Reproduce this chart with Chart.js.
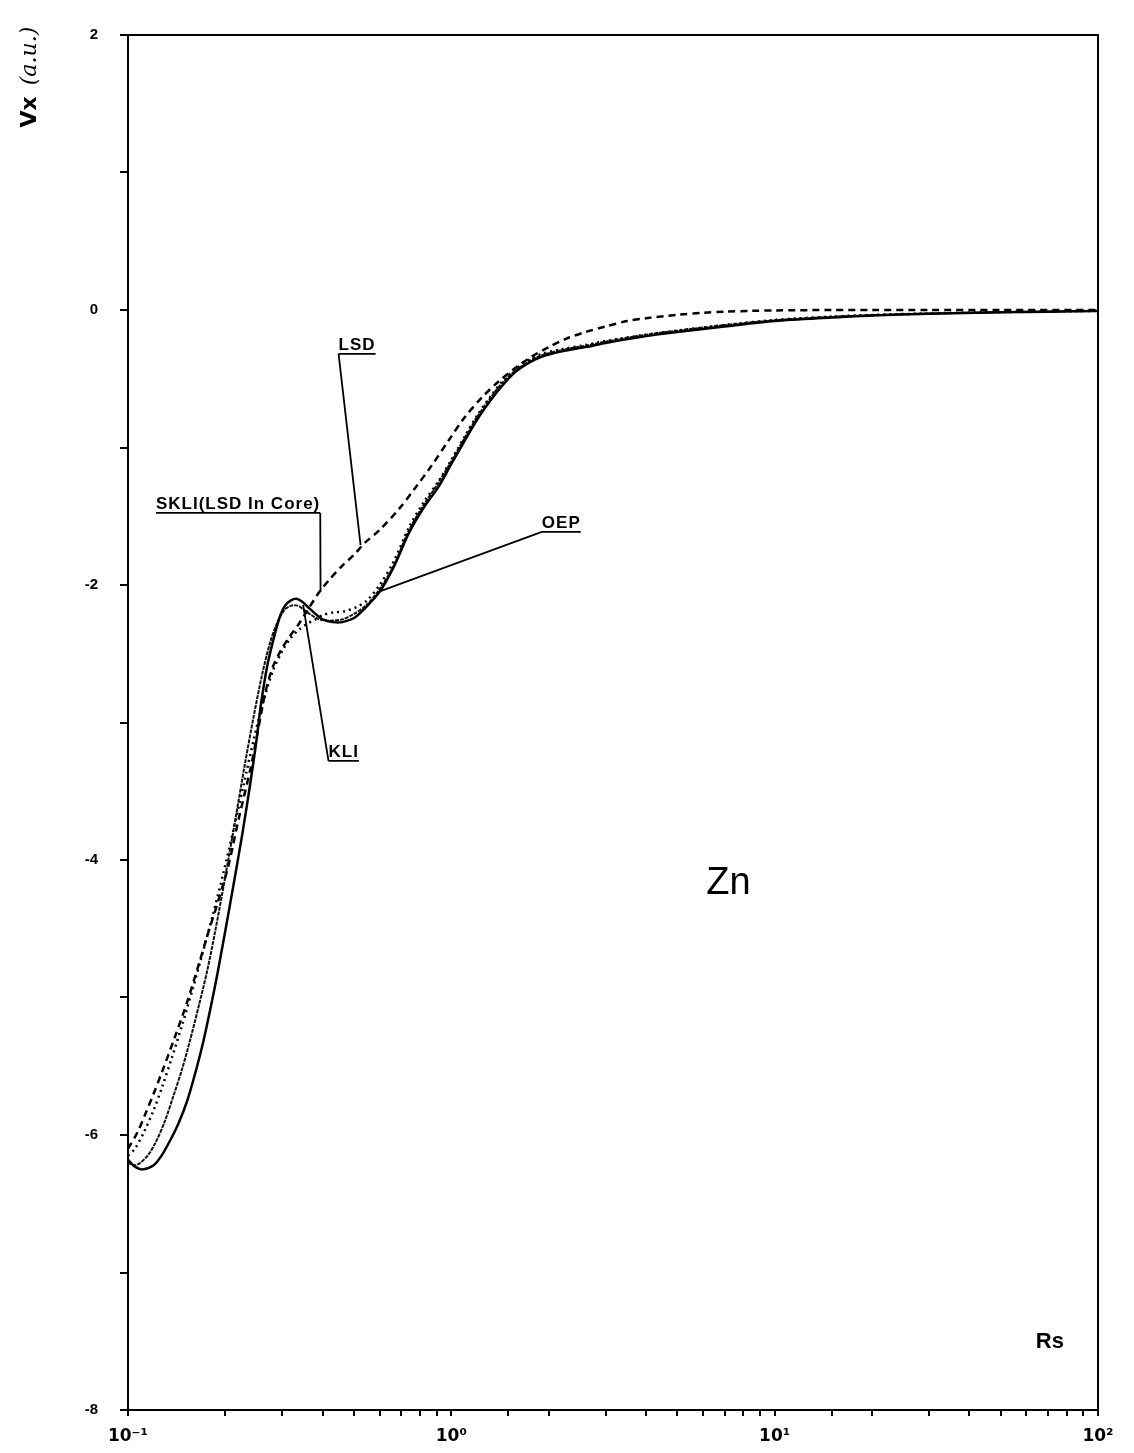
<!DOCTYPE html>
<html>
<head>
<meta charset="utf-8">
<script src="https://cdn.jsdelivr.net/npm/chart.js@4"></script>
<style>
  body { margin: 0; background: #fff; }
  canvas { display: block; }
</style>
</head>
<body>
<canvas id="vx" width="1134" height="1453"></canvas>
<script>
// x = Rs (log), y = Vx in a.u.
const kliX = [0.1, 0.105, 0.111, 0.12, 0.127, 0.135, 0.143, 0.152, 0.161, 0.171, 0.181, 0.19, 0.208, 0.225, 0.239, 0.25, 0.258, 0.27, 0.285, 0.296, 0.306, 0.32, 0.332, 0.345, 0.36, 0.38, 0.40, 0.43, 0.46, 0.5, 0.54, 0.6, 0.66, 0.74, 0.82, 0.91, 1.0, 1.1, 1.2, 1.33, 1.45, 1.58, 1.75, 1.9, 2.2, 2.6, 3.0, 4.0, 5.0, 7.0, 10, 15, 20, 30, 50, 70, 100];
const kliY = [-6.18, -6.23, -6.25, -6.22, -6.15, -6.04, -5.92, -5.76, -5.56, -5.32, -5.05, -4.8, -4.29, -3.83, -3.44, -3.12, -2.86, -2.58, -2.35, -2.22, -2.15, -2.11, -2.1, -2.12, -2.16, -2.21, -2.25, -2.27, -2.27, -2.24, -2.17, -2.05, -1.88, -1.62, -1.44, -1.29, -1.12, -0.95, -0.8, -0.65, -0.54, -0.45, -0.38, -0.34, -0.3, -0.27, -0.24, -0.19, -0.16, -0.12, -0.08, -0.055, -0.04, -0.028, -0.017, -0.012, -0.008];

const oepX = [0.1, 0.104, 0.108, 0.115, 0.122, 0.13, 0.138, 0.147, 0.156, 0.166, 0.176, 0.186, 0.2, 0.215, 0.23, 0.245, 0.26, 0.275, 0.29, 0.305, 0.32, 0.335, 0.35, 0.37, 0.39, 0.42, 0.46, 0.5, 0.55, 0.6, 0.66, 0.74, 0.82, 0.91, 1.0, 1.1, 1.2, 1.33, 1.45, 1.58, 1.75, 1.9, 2.2, 2.6, 3.0, 4.0, 5.0, 7.0, 10, 15, 20, 30, 50, 70, 100];
const oepY = [-6.2, -6.22, -6.21, -6.15, -6.05, -5.9, -5.72, -5.52, -5.3, -5.05, -4.8, -4.52, -4.12, -3.7, -3.3, -2.95, -2.65, -2.42, -2.27, -2.18, -2.15, -2.15, -2.18, -2.22, -2.25, -2.26, -2.25, -2.21, -2.14, -2.03, -1.87, -1.6, -1.42, -1.26, -1.1, -0.93, -0.78, -0.63, -0.52, -0.44, -0.37, -0.33, -0.29, -0.26, -0.23, -0.18, -0.15, -0.11, -0.075, -0.05, -0.038, -0.026, -0.016, -0.011, -0.007];

const lsdX = [0.1, 0.107, 0.113, 0.12, 0.127, 0.14, 0.153, 0.165, 0.177, 0.19, 0.204, 0.22, 0.24, 0.255, 0.266, 0.28, 0.298, 0.315, 0.336, 0.36, 0.388, 0.42, 0.46, 0.5, 0.542, 0.6, 0.687, 0.77, 0.87, 0.98, 1.1, 1.25, 1.4, 1.58, 1.77, 2.0, 2.26, 2.6, 3.0, 3.5, 4.0, 5.0, 6.0, 7.0, 8.5, 10, 15, 20, 30, 50, 100];
const lsdY = [-6.1, -5.98, -5.85, -5.7, -5.55, -5.28, -5.02, -4.77, -4.53, -4.3, -4.05, -3.7, -3.32, -3.0, -2.78, -2.6, -2.47, -2.38, -2.29, -2.18, -2.06, -1.96, -1.86, -1.78, -1.69, -1.6, -1.45, -1.3, -1.13, -0.95, -0.78, -0.63, -0.52, -0.42, -0.34, -0.27, -0.21, -0.16, -0.12, -0.08, -0.06, -0.035, -0.02, -0.012, -0.006, -0.003, 0, 0, 0, 0, 0];

const skliX = [0.1, 0.105, 0.112, 0.12, 0.128, 0.137, 0.147, 0.158, 0.17, 0.183, 0.197, 0.212, 0.228, 0.245, 0.262, 0.28, 0.3, 0.32, 0.34, 0.36, 0.38, 0.4, 0.43, 0.47, 0.51, 0.55, 0.6, 0.66, 0.74, 0.82, 0.91, 1.0, 1.1, 1.2, 1.33, 1.45, 1.58, 1.75, 1.9, 2.2, 2.6, 3.0, 4.0, 5.0, 7.0, 10, 15, 20, 30, 50, 70, 100];
const skliY = [-6.15, -6.1, -5.98, -5.82, -5.64, -5.43, -5.2, -4.95, -4.68, -4.4, -4.1, -3.78, -3.45, -3.12, -2.85, -2.63, -2.48, -2.38, -2.32, -2.28, -2.25, -2.22, -2.2, -2.19, -2.16, -2.11, -2.0, -1.84, -1.58, -1.4, -1.25, -1.09, -0.92, -0.77, -0.62, -0.51, -0.43, -0.36, -0.32, -0.285, -0.255, -0.225, -0.18, -0.15, -0.11, -0.072, -0.048, -0.036, -0.025, -0.015, -0.01, -0.006];

const xTickLabels = { '-1': '10\u207B\u00B9', '0': '10\u2070', '1': '10\u00B9', '2': '10\u00B2' };
const yTickLabels = ['2', '0', '-2', '-4', '-6', '-8'];

function pts(xs, ys) {
  return xs.map((x, i) => ({ x: x, y: ys[i] }));
}

// labels with leader lines (data coords)
const notes = [
  { text: 'LSD', x: 0.448, y: -0.29, toX: 0.524, toY: -1.71, from: 'left' },
  { text: 'SKLI(LSD In Core)', x: 0.122, y: -1.447, toX: 0.394, toY: -2.05, from: 'right' },
  { text: 'OEP', x: 1.905, y: -1.585, toX: 0.595, toY: -2.05, from: 'left' },
  { text: 'KLI', x: 0.417, y: -3.25, toX: 0.348, toY: -2.145, from: 'left' }
];

const notesPlugin = {
  id: 'notes',
  afterDatasetsDraw(chart) {
    const c = chart.ctx, xs = chart.scales.x, ys = chart.scales.y, a = chart.chartArea;
    c.save();
    // frame
    c.strokeStyle = '#000';
    c.lineWidth = 2;
    c.strokeRect(a.left, a.top, a.right - a.left, a.bottom - a.top);

    c.fillStyle = '#000';
    c.font = 'bold 17px "Liberation Sans", Arial, sans-serif';
    c.letterSpacing = '1px';
    c.textBaseline = 'alphabetic';
    c.lineWidth = 1.8;
    notes.forEach(n => {
      const px = xs.getPixelForValue(n.x), py = ys.getPixelForValue(n.y);
      c.textAlign = 'left';
      c.fillText(n.text, px, py);
      const w = c.measureText(n.text).width;
      c.beginPath();
      c.moveTo(px, py + 4);
      c.lineTo(px + w, py + 4);
      const sx = n.from === 'right' ? px + w : px;
      c.moveTo(sx, py + 4);
      c.lineTo(xs.getPixelForValue(n.toX), ys.getPixelForValue(n.toY));
      c.stroke();
    });
    c.letterSpacing = '0px';

    c.font = '38px "Liberation Sans", Arial, sans-serif';
    c.textAlign = 'center';
    c.fillText('Zn', xs.getPixelForValue(7.2), ys.getPixelForValue(-4.25));

    c.font = 'bold 22px "Liberation Sans", Arial, sans-serif';
    c.fillText('Rs', xs.getPixelForValue(71), ys.getPixelForValue(-7.55));

    // y title
    c.translate(30, 80);
    c.rotate(-Math.PI / 2);
    c.textAlign = 'center';
    c.textBaseline = 'middle';
    c.font = 'bold 22px "DejaVu Sans", sans-serif';
    c.fillText('Vx', -32, 0);
    c.font = 'italic 22px "DejaVu Serif", serif';
    c.fillText('(a.u.)', 24, 0);
    c.restore();
  }
};

const ctx = document.getElementById('vx').getContext('2d');
const vxChart = new Chart(ctx, {
  type: 'line',
  data: {
    datasets: [
      { label: 'KLI', data: pts(kliX, kliY), borderColor: '#000', borderWidth: 2.5 },
      { label: 'OEP', data: pts(oepX, oepY), borderColor: '#111', borderWidth: 2, borderDash: [4, 1] },
      { label: 'LSD', data: pts(lsdX, lsdY), borderColor: '#000', borderWidth: 2.5, borderDash: [7, 5] },
      { label: 'SKLI(LSD In Core)', data: pts(skliX, skliY), borderColor: '#000', borderWidth: 2.5, borderDash: [2, 4] }
    ]
  },
  options: {
    responsive: false,
    animation: false,
    devicePixelRatio: 1,
    layout: { padding: { top: 35, right: 36, left: 0, bottom: 0 } },
    elements: { point: { radius: 0 }, line: { tension: 0.3, fill: false } },
    plugins: { legend: { display: false }, tooltip: { enabled: false } },
    scales: {
      x: {
        type: 'logarithmic',
        min: 0.1,
        max: 100,
        afterFit: s => { s.height = 43; },
        border: { display: true, color: '#000', width: 2 },
        grid: { drawOnChartArea: false, drawTicks: true, tickLength: 6, color: '#000', lineWidth: 2 },
        ticks: {
          autoSkip: false,
          maxRotation: 0,
          padding: 10,
          color: '#000',
          font: { family: '"DejaVu Sans", sans-serif', weight: 'bold', size: 17 },
          callback: v => {
            const e = Math.log10(v);
            if (Math.abs(e - Math.round(e)) < 1e-9) return xTickLabels[String(Math.round(e))];
            return '';
          }
        }
      },
      y: {
        min: -8,
        max: 2,
        afterFit: s => { s.width = 128; },
        border: { display: true, color: '#000', width: 2 },
        grid: { drawOnChartArea: false, drawTicks: true, tickLength: 8, color: '#000', lineWidth: 2 },
        ticks: {
          stepSize: 1,
          padding: 22,
          color: '#000',
          font: { family: '"Liberation Sans", Arial, sans-serif', weight: 'bold', size: 15 },
          callback: v => (yTickLabels.includes(String(v)) ? String(v) : '')
        }
      }
    }
  },
  plugins: [notesPlugin]
});
</script>
</body>
</html>
